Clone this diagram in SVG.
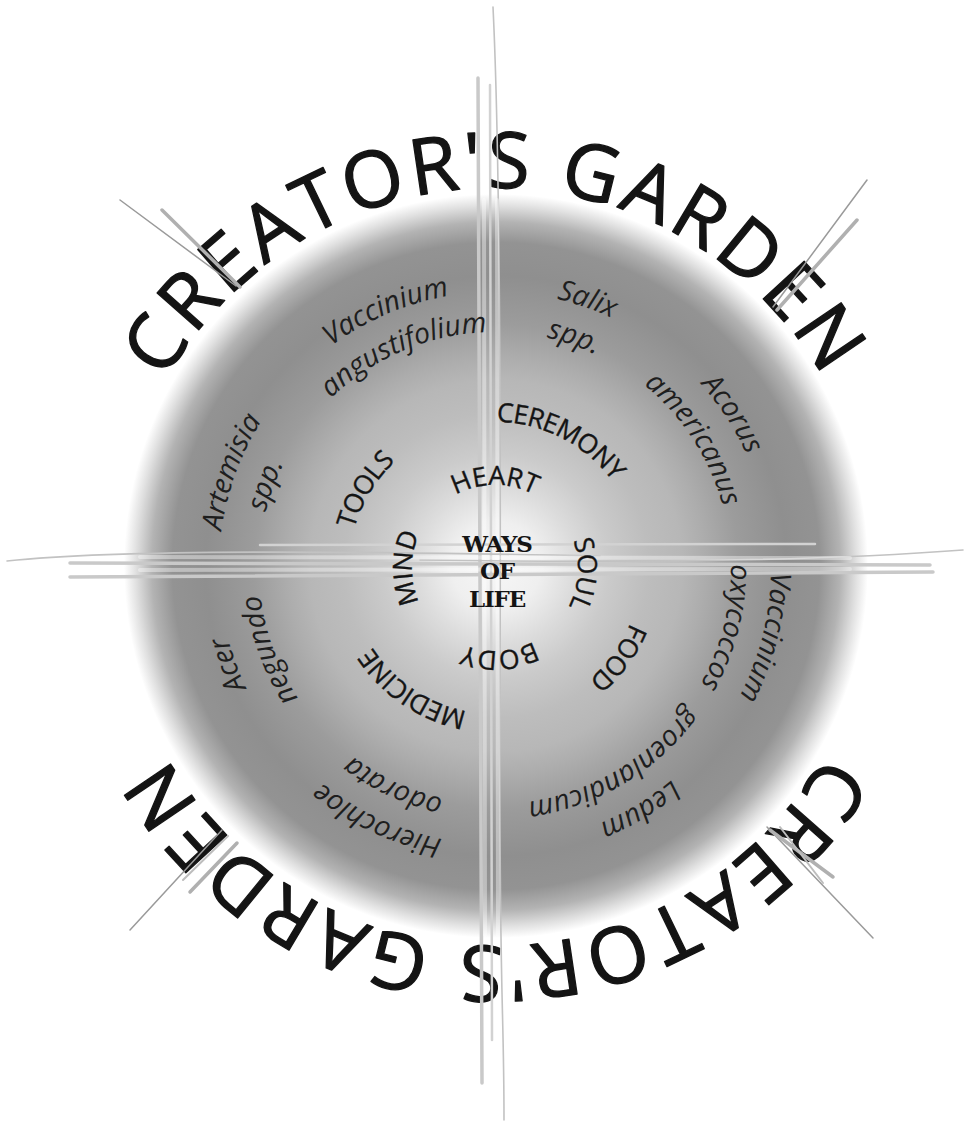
<svg xmlns="http://www.w3.org/2000/svg" xmlns:xlink="http://www.w3.org/1999/xlink" width="964" height="1122" viewBox="0 0 964 1122">
<style>
  text { fill: #141414; text-anchor: middle; }
  .ttl { font-family: "Open Sans", "Liberation Sans", sans-serif; font-size: 78px; letter-spacing: 4.1px; stroke: #141414; stroke-width: 1.3px; stroke-linejoin: round; }
  .cap { font-family: "Open Sans", "Liberation Sans", sans-serif; font-size: 26.5px; stroke: #141414; stroke-width: 0.35px; }
  .cap2 { font-family: "Open Sans", "Liberation Sans", sans-serif; font-size: 26.5px; letter-spacing: -0.9px; stroke: #141414; stroke-width: 0.35px; }
  .ita { font-family: "Open Sans", "Liberation Sans", sans-serif; font-size: 28.5px; font-style: italic; fill: #1e1e1e; }
  .wol { font-family: "DejaVu Serif", "Liberation Serif", serif; font-weight: bold; font-size: 23px; letter-spacing: -1.2px; }
  .ln { fill: none; stroke-linecap: round; }
  .g1 { stroke: #c2c2c2; stroke-width: 1.6; }
  .g2 { stroke: #c9c9c9; stroke-width: 3.5; }
  .g3 { stroke: #d2d2d2; stroke-width: 2.5; }
  .wh { stroke: #ffffff; stroke-opacity: 0.4; stroke-width: 4; }
  .d1 { stroke: #9a9a9a; stroke-width: 1.5; }
  .d2 { stroke: #b0b0b0; stroke-width: 3.5; }
  .d3 { stroke: #bdbdbd; stroke-width: 2; }
</style>
<defs>
  <radialGradient id="bg" cx="496" cy="566" r="372" gradientUnits="userSpaceOnUse">
    <stop offset="0" stop-color="#f7f7f7"/>
    <stop offset="0.12" stop-color="#efefef"/>
    <stop offset="0.21" stop-color="#dcdcdc"/>
    <stop offset="0.3" stop-color="#cbcbcb"/>
    <stop offset="0.41" stop-color="#bdbdbd"/>
    <stop offset="0.5" stop-color="#b7b7b7"/>
    <stop offset="0.56" stop-color="#adadad"/>
    <stop offset="0.65" stop-color="#9c9c9c"/>
    <stop offset="0.78" stop-color="#8f8f8f"/>
    <stop offset="0.87" stop-color="#939393"/>
    <stop offset="0.925" stop-color="#b3b3b3"/>
    <stop offset="0.968" stop-color="#e0e0e0"/>
    <stop offset="1" stop-color="#ffffff"/>
  </radialGradient>
  <!-- clockwise circles, twice around, starting at angle 0 -->
  <path id="r83" d="M578,568 A83,83 0 0 1 412,568 A83,83 0 0 1 578,568 A83,83 0 0 1 412,568 A83,83 0 0 1 578,568"/>
  <path id="r146" d="M641,568 A146,146 0 0 1 349,568 A146,146 0 0 1 641,568 A146,146 0 0 1 349,568 A146,146 0 0 1 641,568"/>
  <path id="r236" d="M731,568 A236,236 0 0 1 259,568 A236,236 0 0 1 731,568 A236,236 0 0 1 259,568 A236,236 0 0 1 731,568"/>
  <path id="r276" d="M771,568 A276,276 0 0 1 219,568 A276,276 0 0 1 771,568 A276,276 0 0 1 219,568 A276,276 0 0 1 771,568"/>
  <path id="r379" d="M874,567 A379,379 0 0 1 116,567 A379,379 0 0 1 874,567 A379,379 0 0 1 116,567 A379,379 0 0 1 874,567"/>
</defs>

<rect x="0" y="0" width="964" height="1122" fill="#ffffff"/>

<g id="garden-circle">
  <circle cx="496" cy="566" r="372" fill="url(#bg)"/>
</g>

<g id="title">
  <text class="ttl"><textPath href="#r379" startOffset="87.5%">CREATOR'S GARDEN</textPath></text>
  <text class="ttl"><textPath href="#r379" startOffset="62.5%">CREATOR'S GARDEN</textPath></text>
</g>

<g id="connectors">
  <!-- vertical strokes -->
  <path class="ln g1" d="M493,7 C500,150 501,400 500,700 S504,1000 504,1120"/>
  <path class="ln g2" d="M478,78 L482,1083"/>
  <path class="ln g3" d="M490,85 L492,1040"/>
  <path class="ln wh" d="M484,200 L485,935"/>
  <path class="ln wh" d="M497,200 L498,935"/>
  <!-- horizontal strokes -->
  <path class="ln g1" d="M7,561 C120,549 350,551 600,556"/>
  <path class="ln g1" d="M420,560 C620,563 820,561 963,550"/>
  <path class="ln g2" d="M70,563 L930,565"/>
  <path class="ln g2" d="M70,577 L933,572"/>
  <path class="ln g3" d="M260,545 L815,544"/>
  <path class="ln wh" d="M140,557 L850,558"/>
  <path class="ln wh" d="M140,570 L850,569"/>
  <!-- diagonal strokes -->
  <path class="ln d1" d="M120,200 L236,286"/>
  <path class="ln d2" d="M162,210 L240,287"/>
  <path class="ln d1" d="M867,180 L773,307"/>
  <path class="ln d2" d="M857,220 L777,310"/>
  <path class="ln d1" d="M130,930 L222,830"/>
  <path class="ln d2" d="M190,892 L237,843"/>
  <path class="ln d3" d="M183,880 L228,836"/>
  <path class="ln d1" d="M873,938 L767,827"/>
  <path class="ln d2" d="M833,877 L770,830"/>
  <path class="ln d3" d="M823,883 L780,827"/>
</g>

<g id="center">
  <text class="wol" x="497" y="552">WAYS</text>
  <text class="wol" x="497" y="579">OF</text>
  <text class="wol" x="497" y="607">LIFE</text>
</g>

<g id="inner-ring">
  <text class="cap"><textPath href="#r83" startOffset="87.5%">HEART</textPath></text>
  <text class="cap"><textPath href="#r83" startOffset="50.556%">SOUL</textPath></text>
  <text class="cap"><textPath href="#r83" startOffset="62.083%">BODY</textPath></text>
  <text class="cap"><textPath href="#r83" startOffset="75%">MIND</textPath></text>
</g>

<g id="middle-ring">
  <text class="cap2"><textPath href="#r146" startOffset="91.25%">CEREMONY</textPath></text>
  <text class="cap2"><textPath href="#r146" startOffset="55%">FOOD</textPath></text>
  <text class="cap2"><textPath href="#r146" startOffset="67.222%">MEDICINE</textPath></text>
  <text class="cap2"><textPath href="#r146" startOffset="79.306%">TOOLS</textPath></text>
</g>

<g id="plants">
  <g id="vaccinium-angustifolium">
    <text class="ita"><textPath href="#r276" startOffset="84.306%">Vaccinium</textPath></text>
    <text class="ita"><textPath href="#r236" startOffset="84.306%">angustifolium</textPath></text>
  </g>
  <g id="salix">
    <text class="ita"><textPath href="#r276" startOffset="90.139%">Salix</textPath></text>
    <text class="ita"><textPath href="#r236" startOffset="90.139%">spp.</textPath></text>
  </g>
  <g id="acorus">
    <text class="ita"><textPath href="#r276" startOffset="95.417%">Acorus</textPath></text>
    <text class="ita"><textPath href="#r236" startOffset="95.417%">americanus</textPath></text>
  </g>
  <g id="vaccinium-oxycoccos">
    <text class="ita"><textPath href="#r276" startOffset="52.0%">Vaccinium</textPath></text>
    <text class="ita"><textPath href="#r236" startOffset="52.0%">oxycoccos</textPath></text>
  </g>
  <g id="ledum">
    <text class="ita"><textPath href="#r276" startOffset="58.194%">Ledum</textPath></text>
    <text class="ita"><textPath href="#r236" startOffset="58.194%">groenlandicum</textPath></text>
  </g>
  <g id="hierochloe">
    <text class="ita"><textPath href="#r276" startOffset="65.972%">Hierochloe</textPath></text>
    <text class="ita"><textPath href="#r236" startOffset="65.972%">odorata</textPath></text>
  </g>
  <g id="acer">
    <text class="ita"><textPath href="#r276" startOffset="72.222%">Acer</textPath></text>
    <text class="ita"><textPath href="#r236" startOffset="72.222%">negundo</textPath></text>
  </g>
  <g id="artemisia">
    <text class="ita"><textPath href="#r276" startOffset="77.778%">Artemisia</textPath></text>
    <text class="ita"><textPath href="#r236" startOffset="77.778%">spp.</textPath></text>
  </g>
</g>
</svg>
